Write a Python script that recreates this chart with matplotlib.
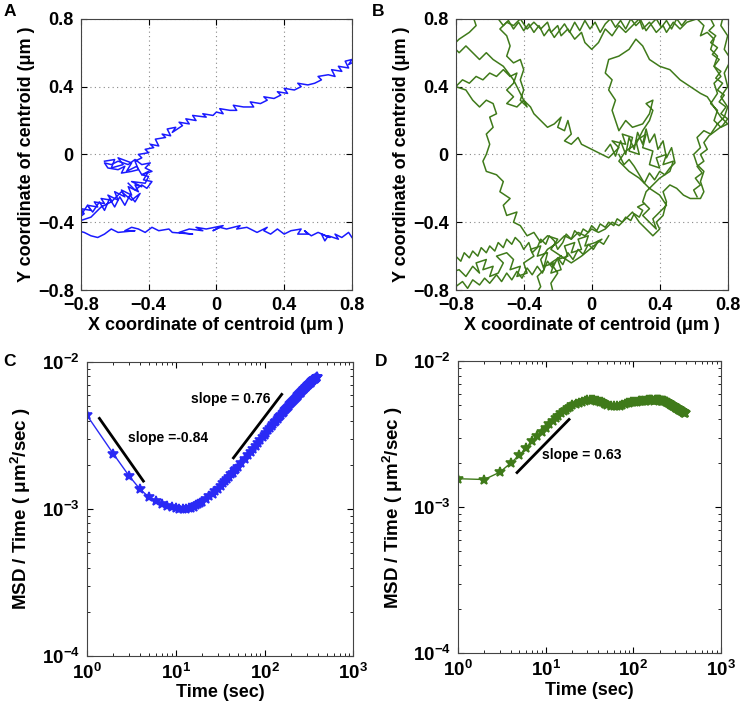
import matplotlib
matplotlib.use('Agg')
import numpy as np
import matplotlib.pyplot as plt

plt.rcParams['font.family'] = ['Liberation Sans', 'DejaVu Sans']
plt.rcParams['font.weight'] = 'bold'
plt.rcParams['axes.labelweight'] = 'bold'
plt.rcParams['mathtext.fontset'] = 'custom'
plt.rcParams['mathtext.rm'] = 'Liberation Sans:bold'
plt.rcParams['mathtext.bf'] = 'Liberation Sans:bold'
plt.rcParams['mathtext.it'] = 'Liberation Sans:bold:italic'

# panel A: centroid trajectory (um), lower band then upper band
path_a = [
    (0.80, -0.49), (0.78, -0.46), (0.74, -0.49), (0.70, -0.47), (0.72, -0.50), (0.66, -0.48),
    (0.64, -0.51), (0.62, -0.47), (0.67, -0.49), (0.60, -0.46), (0.56, -0.48), (0.52, -0.45),
    (0.54, -0.47), (0.48, -0.47), (0.50, -0.44), (0.44, -0.45), (0.40, -0.47), (0.36, -0.44),
    (0.32, -0.47), (0.28, -0.45), (0.30, -0.43), (0.24, -0.46), (0.18, -0.43), (0.12, -0.44),
    (0.14, -0.42), (0.06, -0.44), (0.02, -0.43), (-0.02, -0.45), (0.04, -0.42), (-0.06, -0.44),
    (-0.12, -0.43), (-0.08, -0.45), (-0.16, -0.44), (-0.22, -0.46), (-0.14, -0.47), (-0.26, -0.46),
    (-0.28, -0.44), (-0.34, -0.45), (-0.38, -0.43), (-0.42, -0.46), (-0.46, -0.44), (-0.50, -0.43),
    (-0.54, -0.45), (-0.48, -0.45), (-0.58, -0.46), (-0.62, -0.44), (-0.66, -0.47), (-0.70, -0.49),
    (-0.74, -0.48), (-0.78, -0.46), (-0.82, -0.45), (-0.85, -0.42),
    (-0.82, -0.38), (-0.78, -0.35), (-0.80, -0.32), (-0.74, -0.33), (-0.76, -0.30), (-0.70, -0.31),
    (-0.72, -0.28), (-0.66, -0.29), (-0.68, -0.26), (-0.62, -0.27), (-0.64, -0.24), (-0.58, -0.27),
    (-0.60, -0.22), (-0.54, -0.25), (-0.56, -0.21), (-0.50, -0.24), (-0.52, -0.19), (-0.46, -0.22),
    (-0.48, -0.18), (-0.44, -0.19), (-0.50, -0.16), (-0.42, -0.17), (-0.40, -0.13), (-0.44, -0.12),
    (-0.38, -0.10), (-0.42, -0.08), (-0.39, -0.05), (-0.44, -0.06), (-0.48, -0.03), (-0.52, -0.06),
    (-0.58, -0.04), (-0.62, -0.06), (-0.66, -0.05), (-0.64, -0.08), (-0.58, -0.09), (-0.54, -0.07),
    (-0.56, -0.11), (-0.50, -0.10), (-0.46, -0.09), (-0.48, -0.04), (-0.44, -0.02), (-0.46, 0.00),
    (-0.40, 0.01), (-0.42, 0.03), (-0.37, 0.04), (-0.39, 0.06), (-0.34, 0.05), (-0.36, 0.09),
    (-0.30, 0.10), (-0.32, 0.12), (-0.27, 0.11), (-0.29, 0.15), (-0.24, 0.16), (-0.26, 0.13),
    (-0.20, 0.17), (-0.22, 0.19), (-0.16, 0.18), (-0.18, 0.21), (-0.12, 0.20), (-0.14, 0.23),
    (-0.06, 0.22), (-0.08, 0.24), (-0.02, 0.23), (0.00, 0.25), (0.04, 0.24), (0.02, 0.27),
    (0.08, 0.26), (0.12, 0.26), (0.10, 0.29), (0.16, 0.28), (0.22, 0.28), (0.20, 0.31),
    (0.26, 0.30), (0.30, 0.32), (0.28, 0.34), (0.34, 0.33), (0.38, 0.35), (0.36, 0.37),
    (0.42, 0.36), (0.40, 0.39), (0.46, 0.38), (0.50, 0.40), (0.48, 0.42), (0.54, 0.41),
    (0.58, 0.42), (0.62, 0.44), (0.60, 0.46), (0.66, 0.47), (0.70, 0.46), (0.68, 0.50),
    (0.74, 0.49), (0.72, 0.52), (0.78, 0.51), (0.76, 0.55), (0.80, 0.56), (0.78, 0.53), (0.82, 0.55),
]
a_cluster_low = [
    (-0.80, -0.36), (-0.76, -0.30), (-0.73, -0.34), (-0.69, -0.28), (-0.66, -0.33), (-0.63, -0.26),
    (-0.60, -0.31), (-0.57, -0.25), (-0.54, -0.30), (-0.51, -0.24), (-0.48, -0.28), (-0.45, -0.23),
    (-0.50, -0.27), (-0.56, -0.22), (-0.62, -0.28), (-0.68, -0.31), (-0.74, -0.37), (-0.80, -0.39),
]
a_cluster_mid = [
    (-0.66, -0.04), (-0.60, -0.03), (-0.62, -0.08), (-0.55, -0.06), (-0.58, -0.02), (-0.50, -0.05),
    (-0.53, -0.10), (-0.47, -0.07), (-0.44, -0.12), (-0.40, -0.10), (-0.43, -0.15), (-0.38, -0.16),
    (-0.41, -0.20), (-0.44, -0.18), (-0.48, -0.21), (-0.52, -0.17),
]

# panel B: centroid trajectory (um), main walk plus dense passes
b_main = [
    (-0.84, -0.70), (-0.78, -0.68), (-0.74, -0.72), (-0.70, -0.66), (-0.66, -0.70), (-0.68, -0.64),
    (-0.62, -0.62), (-0.64, -0.68), (-0.58, -0.66), (-0.60, -0.72), (-0.55, -0.70), (-0.52, -0.64),
    (-0.56, -0.60), (-0.50, -0.58), (-0.46, -0.62), (-0.48, -0.68), (-0.42, -0.66), (-0.44, -0.72),
    (-0.38, -0.70), (-0.40, -0.64), (-0.34, -0.60), (-0.36, -0.56), (-0.30, -0.54), (-0.32, -0.60),
    (-0.26, -0.58), (-0.28, -0.66), (-0.22, -0.64), (-0.24, -0.70), (-0.18, -0.68), (-0.20, -0.62),
    (-0.14, -0.60), (-0.16, -0.54), (-0.10, -0.52), (-0.12, -0.58), (-0.06, -0.56), (-0.08, -0.50),
    (-0.02, -0.48), (-0.04, -0.54), (0.02, -0.52), (0.06, -0.50),
    (0.00, -0.55), (-0.06, -0.60), (-0.12, -0.64), (-0.18, -0.60), (-0.24, -0.56), (-0.20, -0.50),
    (-0.26, -0.48), (-0.30, -0.52), (-0.34, -0.46), (-0.38, -0.48), (-0.42, -0.42), (-0.46, -0.40),
    (-0.44, -0.34), (-0.50, -0.36), (-0.52, -0.30), (-0.48, -0.26), (-0.54, -0.22), (-0.52, -0.16),
    (-0.56, -0.12), (-0.62, -0.10), (-0.64, -0.04), (-0.62, 0.00), (-0.60, 0.06), (-0.62, 0.12),
    (-0.58, 0.16), (-0.60, 0.22), (-0.56, 0.24), (-0.58, 0.30), (-0.62, 0.32), (-0.66, 0.28),
    (-0.70, 0.32), (-0.74, 0.38), (-0.80, 0.40), (-0.76, 0.44), (-0.72, 0.42), (-0.68, 0.46),
    (-0.64, 0.44), (-0.60, 0.48), (-0.56, 0.46), (-0.52, 0.50), (-0.48, 0.46), (-0.44, 0.48),
    (-0.46, 0.42), (-0.50, 0.38), (-0.46, 0.34), (-0.50, 0.30), (-0.44, 0.28), (-0.40, 0.32),
    (-0.36, 0.28), (-0.34, 0.24), (-0.30, 0.20), (-0.26, 0.16), (-0.22, 0.18), (-0.18, 0.22),
    (-0.20, 0.16), (-0.16, 0.14), (-0.14, 0.20), (-0.12, 0.12), (-0.16, 0.08), (-0.12, 0.06),
    (-0.08, 0.10), (-0.06, 0.06), (-0.02, 0.04), (0.02, 0.02), (0.06, 0.00), (0.10, -0.02),
    (0.16, 0.04), (0.12, 0.08), (0.20, 0.06), (0.18, 0.12), (0.24, 0.10), (0.22, 0.02),
    (0.28, 0.00), (0.26, 0.08), (0.32, 0.12), (0.30, 0.04), (0.36, 0.02), (0.34, -0.06),
    (0.40, -0.08), (0.38, -0.02), (0.44, 0.00), (0.42, -0.06), (0.48, -0.04), (0.46, -0.10),
    (0.40, -0.14), (0.36, -0.18), (0.32, -0.22), (0.30, -0.28), (0.34, -0.32), (0.30, -0.36),
    (0.34, -0.40), (0.38, -0.44), (0.36, -0.38), (0.40, -0.34), (0.44, -0.30), (0.40, -0.24),
    (0.34, -0.20), (0.28, -0.14), (0.22, -0.10), (0.16, -0.04), (0.20, 0.02), (0.26, 0.06),
    (0.30, 0.14), (0.34, 0.20), (0.36, 0.26), (0.32, 0.30), (0.36, 0.32), (0.34, 0.24),
    (0.30, 0.18), (0.24, 0.16), (0.20, 0.20), (0.16, 0.14), (0.14, 0.20), (0.12, 0.26),
    (0.14, 0.32), (0.10, 0.38), (0.12, 0.44), (0.08, 0.48), (0.10, 0.56),
    (0.16, 0.58), (0.22, 0.62), (0.26, 0.68), (0.30, 0.64), (0.34, 0.56), (0.40, 0.52),
    (0.46, 0.50), (0.52, 0.44), (0.58, 0.40), (0.64, 0.36), (0.68, 0.34), (0.72, 0.28),
    (0.76, 0.22), (0.80, 0.18), (0.76, 0.16), (0.72, 0.20), (0.74, 0.26), (0.70, 0.30),
    (0.74, 0.36), (0.72, 0.42), (0.76, 0.46), (0.72, 0.52), (0.74, 0.58), (0.70, 0.62),
    (0.72, 0.68), (0.68, 0.72), (0.64, 0.70), (0.66, 0.76), (0.62, 0.80),
    (0.56, 0.78), (0.52, 0.74), (0.48, 0.78), (0.44, 0.72), (0.42, 0.76), (0.38, 0.72),
    (0.34, 0.78), (0.30, 0.74), (0.28, 0.80), (0.24, 0.76), (0.20, 0.72), (0.16, 0.76),
    (0.12, 0.70), (0.08, 0.74), (0.04, 0.66), (0.00, 0.62), (-0.04, 0.66), (-0.06, 0.72),
    (-0.10, 0.68), (-0.14, 0.74), (-0.18, 0.70), (-0.20, 0.76), (-0.24, 0.72), (-0.26, 0.78),
    (-0.30, 0.74), (-0.34, 0.78), (-0.38, 0.74), (-0.42, 0.80), (-0.46, 0.76), (-0.50, 0.78),
    (-0.54, 0.74), (-0.50, 0.70), (-0.48, 0.64), (-0.50, 0.58), (-0.46, 0.54), (-0.42, 0.56),
    (-0.40, 0.50), (-0.42, 0.44), (-0.40, 0.38), (-0.42, 0.32), (-0.38, 0.28),
    (-0.46, 0.44), (-0.52, 0.52), (-0.58, 0.56), (-0.62, 0.60), (-0.66, 0.56), (-0.70, 0.60),
    (-0.74, 0.64), (-0.78, 0.60), (-0.82, 0.64), (-0.78, 0.68), (-0.72, 0.72), (-0.68, 0.76),
    (-0.70, 0.82), (0.78, 0.84),
    (0.76, 0.76), (0.80, 0.70), (0.78, 0.62), (0.82, 0.56), (0.78, 0.48), (0.80, 0.40),
    (0.76, 0.34), (0.80, 0.28), (0.78, 0.22), (0.74, 0.18), (0.70, 0.12), (0.66, 0.14),
    (0.62, 0.10), (0.64, 0.04), (0.60, 0.00), (0.62, -0.06), (0.66, -0.10), (0.64, -0.16),
    (0.66, -0.22), (0.64, -0.26), (0.58, -0.26), (0.54, -0.24), (0.50, -0.20), (0.46, -0.18),
    (0.42, -0.22), (0.44, -0.28), (0.42, -0.36), (0.38, -0.40), (0.40, -0.44), (0.36, -0.48),
    (0.32, -0.44), (0.28, -0.40), (0.24, -0.34), (0.20, -0.38), (0.16, -0.42), (0.12, -0.40),
    (0.08, -0.44), (0.04, -0.46), (0.00, -0.44), (-0.04, -0.48), (-0.08, -0.46), (-0.12, -0.50),
    (-0.16, -0.48), (-0.20, -0.52), (-0.26, -0.56), (-0.30, -0.62), (-0.28, -0.68), (-0.32, -0.72),
    (-0.30, -0.78), (-0.34, -0.84), (-0.22, -0.84),
    (-0.24, -0.76), (-0.20, -0.70), (-0.24, -0.64), (-0.18, -0.60),
]
b_low_upper = [
    (-0.80, -0.60), (-0.77, -0.63), (-0.75, -0.58), (-0.72, -0.61), (-0.70, -0.57), (-0.67, -0.60),
    (-0.65, -0.55), (-0.62, -0.58), (-0.60, -0.54), (-0.57, -0.57), (-0.55, -0.52), (-0.52, -0.55),
    (-0.50, -0.50), (-0.47, -0.53), (-0.45, -0.49), (-0.42, -0.52), (-0.40, -0.56), (-0.37, -0.52),
    (-0.35, -0.58), (-0.32, -0.55), (-0.30, -0.50), (-0.27, -0.53), (-0.25, -0.48), (-0.22, -0.51),
    (-0.20, -0.56), (-0.17, -0.52), (-0.15, -0.47), (-0.12, -0.50), (-0.10, -0.45), (-0.07, -0.48),
    (-0.05, -0.44), (-0.02, -0.46), (0.00, -0.42), (0.03, -0.45), (0.05, -0.41), (0.08, -0.43),
    (0.10, -0.40), (0.13, -0.42), (0.15, -0.38), (0.18, -0.40), (0.20, -0.37), (0.23, -0.39),
    (0.25, -0.35), (0.28, -0.37), (0.30, -0.33), (0.27, -0.31), (0.31, -0.29),
]
b_low_lower = [
    (-0.80, -0.78), (-0.76, -0.75), (-0.73, -0.79), (-0.70, -0.74), (-0.66, -0.77), (-0.63, -0.73),
    (-0.60, -0.76), (-0.56, -0.71), (-0.53, -0.75), (-0.50, -0.70), (-0.47, -0.74), (-0.44, -0.69),
    (-0.41, -0.73), (-0.38, -0.67), (-0.35, -0.71), (-0.32, -0.66), (-0.29, -0.70), (-0.26, -0.63),
    (-0.23, -0.67), (-0.20, -0.61), (-0.17, -0.65), (-0.14, -0.58), (-0.11, -0.62), (-0.08, -0.56),
    (-0.05, -0.59), (-0.02, -0.53), (0.01, -0.56), (0.04, -0.51), (0.07, -0.53), (0.10, -0.48),
]
b_right = [
    (0.70, 0.80), (0.72, 0.76), (0.69, 0.73), (0.73, 0.70), (0.70, 0.66), (0.74, 0.63),
    (0.71, 0.59), (0.75, 0.56), (0.72, 0.52), (0.76, 0.49), (0.73, 0.45), (0.77, 0.42),
    (0.74, 0.38), (0.78, 0.35), (0.75, 0.31), (0.79, 0.28), (0.76, 0.24), (0.80, 0.21),
    (0.77, 0.17), (0.73, 0.14), (0.69, 0.11), (0.66, 0.07), (0.68, 0.03), (0.64, 0.00),
    (0.66, -0.04), (0.62, -0.07), (0.65, -0.11), (0.61, -0.14), (0.64, -0.18), (0.60, -0.21),
    (0.62, -0.25),
]
b_top = [
    (-0.55, 0.80), (-0.52, 0.76), (-0.49, 0.79), (-0.46, 0.74), (-0.43, 0.78), (-0.40, 0.73),
    (-0.37, 0.77), (-0.34, 0.72), (-0.31, 0.76), (-0.28, 0.70), (-0.25, 0.74), (-0.22, 0.69),
    (-0.19, 0.73), (-0.16, 0.77), (-0.13, 0.72), (-0.10, 0.78), (-0.07, 0.73), (-0.04, 0.79),
    (-0.01, 0.74), (0.02, 0.78), (0.05, 0.72), (0.08, 0.77), (0.11, 0.80), (0.14, 0.75),
    (0.17, 0.79), (0.20, 0.74), (0.23, 0.80), (0.26, 0.76), (0.29, 0.79), (0.32, 0.73),
    (0.35, 0.77), (0.38, 0.80), (0.41, 0.75), (0.44, 0.79), (0.47, 0.74), (0.50, 0.80),
    (0.53, 0.76), (0.56, 0.80),
]
b_center = [
    (0.08, 0.02), (0.11, 0.06), (0.14, -0.01), (0.17, 0.08), (0.20, 0.00), (0.22, 0.10),
    (0.25, 0.03), (0.27, 0.13), (0.30, 0.06), (0.32, 0.15), (0.34, 0.07), (0.37, 0.12),
    (0.39, 0.03), (0.42, 0.08), (0.44, -0.02), (0.47, 0.04), (0.49, -0.05), (0.46, -0.08),
    (0.43, -0.12), (0.40, -0.10), (0.37, -0.15), (0.34, -0.11), (0.31, -0.17), (0.28, -0.12),
    (0.25, -0.07), (0.22, -0.03), (0.19, -0.06), (0.16, 0.00),
]

# panels C and D: MSD / time (x1e-3 um^2/sec) vs lag time (sec)
lag_time = ([1, 2, 3, 4, 5, 6, 7, 8, 9, 10, 11, 12, 13, 14, 15, 16, 17, 18, 19, 20]
            + [22, 24, 26, 28, 30, 32, 34, 36, 38, 40, 42, 44, 46, 48, 50]
            + [55, 60, 65, 70, 75, 80, 85, 90, 95]
            + [100, 105, 110, 115, 120, 125, 130, 135, 140, 145, 150, 155, 160, 165, 170,
               175, 180, 185, 190, 195, 200, 205, 210, 215, 220, 225, 230, 235, 240, 245,
               250, 255, 260, 265, 270, 275, 280, 285, 290, 295, 300, 305, 310, 315, 320,
               325, 330, 335, 340, 345, 350, 355, 360, 365, 370, 375, 380, 385, 390])
msd_c = [4.37, 2.37, 1.68, 1.36, 1.21, 1.14, 1.09, 1.05, 1.03, 1.01, 1.00, 1.00, 1.00, 1.01,
         1.02, 1.04, 1.06, 1.08, 1.10, 1.12,
         1.17, 1.22, 1.27, 1.33, 1.38, 1.44, 1.50, 1.55, 1.61, 1.66, 1.72, 1.77, 1.83, 1.88, 1.94,
         2.07, 2.20, 2.33, 2.45, 2.57, 2.70, 2.82, 2.95, 3.07,
         3.19, 3.31, 3.43, 3.55, 3.67, 3.79, 3.90, 4.00, 4.10, 4.20, 4.30, 4.40, 4.50, 4.60, 4.70,
         4.79, 4.88, 4.97, 5.06, 5.15, 5.25, 5.33, 5.42, 5.51, 5.60, 5.69, 5.78, 5.86, 5.95, 6.03,
         6.12, 6.21, 6.30, 6.37, 6.45, 6.52, 6.60, 6.67, 6.74, 6.81, 6.88, 6.94, 7.00, 7.06, 7.12,
         7.18, 7.25, 7.31, 7.38, 7.44, 7.50, 7.56, 7.62, 7.67, 7.72, 7.77, 7.82, 7.86, 7.90]
msd_d = [1.57, 1.55, 1.74, 2.01, 2.27, 2.56, 2.83, 3.06, 3.27, 3.51, 3.70, 3.90, 4.08, 4.25,
         4.40, 4.55, 4.68, 4.80, 4.90, 5.00,
         5.12, 5.22, 5.30, 5.36, 5.40, 5.42, 5.42, 5.40, 5.38, 5.35, 5.30, 5.24, 5.17, 5.11, 5.06,
         4.97, 4.92, 4.93, 4.98, 5.05, 5.12, 5.18, 5.22, 5.25,
         5.27, 5.29, 5.31, 5.33, 5.34, 5.36, 5.37, 5.38, 5.39, 5.40, 5.40, 5.40, 5.40, 5.40, 5.39,
         5.40, 5.40, 5.41, 5.41, 5.41, 5.40, 5.39, 5.38, 5.37, 5.36, 5.35, 5.33, 5.31, 5.28, 5.24,
         5.20, 5.16, 5.12, 5.08, 5.05, 5.01, 4.98, 4.95, 4.92, 4.89, 4.86, 4.83, 4.80, 4.77, 4.74,
         4.72, 4.70, 4.67, 4.65, 4.62, 4.60, 4.57, 4.55, 4.52, 4.50, 4.47, 4.45, 4.42, 4.40]

# slope guide lines (time, MSD/time)
slope_c1 = ([1.39, 4.34], [4.14e-3, 1.55e-3])
slope_c2 = ([44.7, 156], [2.23e-3, 6.03e-3])
slope_d = ([4.72, 18.5], [1.73e-3, 4.0e-3])

blue = '#1a1aff'
green = '#3f7a1a'
lin_ticks = [-0.8, -0.4, 0, 0.4, 0.8]
lin_labels = ['\u22120.8', '\u22120.4', '0', '0.4', '0.8']


def style_axes(ax, size):
    ax.tick_params(which='both', direction='in', top=True, right=True, labelsize=size, pad=5)
    ax.tick_params(which='major', length=4)
    ax.tick_params(which='minor', length=2.5)
    for s in ax.spines.values():
        s.set_linewidth(0.8)
        s.set_color('#444444')


def trajectory_panel(ax, segments, color):
    for seg in segments:
        p = np.array(seg)
        ax.plot(p[:, 0], p[:, 1], color=color, lw=1.1)
    ax.set_xlim(-0.8, 0.8)
    ax.set_ylim(-0.8, 0.8)
    ax.set_xticks(lin_ticks)
    ax.set_xticklabels(lin_labels)
    ax.set_yticks(lin_ticks)
    ax.set_yticklabels(lin_labels)
    ax.grid(True, linestyle=(0, (1, 3)), color='#888888', lw=0.8)
    ax.set_xlabel('X coordinate of centroid (\u03bcm )', fontsize=13, labelpad=2)
    ax.set_ylabel('Y coordinate of centroid (\u03bcm )', fontsize=13, labelpad=2)
    style_axes(ax, 13)


def msd_panel(ax, values, color, lines):
    ax.plot(lag_time, np.array(values) * 1e-3, color=color, lw=1, marker='*',
            ms=7.5, mew=1.2)
    for xs, ys in lines:
        ax.plot(xs, ys, color='black', lw=2)
    ax.set_xscale('log')
    ax.set_yscale('log')
    ax.set_xlim(1, 1000)
    ax.set_ylim(1e-4, 1e-2)
    ax.set_xticks([1, 10, 100, 1000])
    ax.set_xticklabels([r'$10^{0}$', r'$10^{1}$', r'$10^{2}$', r'$10^{3}$'])
    ax.set_yticks([1e-4, 1e-3, 1e-2])
    ax.set_yticklabels([r'$10^{-4}$', r'$10^{-3}$', r'$10^{-2}$'])
    ax.set_xlabel('Time (sec)', fontsize=13, labelpad=1)
    ax.set_ylabel('MSD / Time ( \u03bcm$^2$/sec )', fontsize=13.5, labelpad=6)
    style_axes(ax, 13.5)


fig = plt.figure(figsize=(7.41, 7.10), dpi=100)
axA = fig.add_axes([0.109, 0.5915, 0.366, 0.382])
axB = fig.add_axes([0.615, 0.5915, 0.367, 0.382])
axC = fig.add_axes([0.117, 0.076, 0.360, 0.414])
axD = fig.add_axes([0.618, 0.080, 0.355, 0.411])

trajectory_panel(axA, [path_a, a_cluster_low, a_cluster_mid], blue)
trajectory_panel(axB, [b_main, b_low_upper, b_low_lower, b_right, b_top, b_center], green)
msd_panel(axC, msd_c, '#2a2af5', [slope_c1, slope_c2])
msd_panel(axD, msd_d, green, [slope_d])

axC.text(2.9, 3.03e-3, 'slope =-0.84', fontsize=10, va='center')
axC.text(14.9, 5.57e-3, 'slope = 0.76', fontsize=10, va='center')
axD.text(9.1, 2.3e-3, 'slope = 0.63', fontsize=10, va='center')

for lbl, x, y in [('A', 0.005, 0.995), ('B', 0.502, 0.995), ('C', 0.005, 0.502), ('D', 0.506, 0.502)]:
    fig.text(x, y, lbl, fontsize=12.5, fontweight='bold', va='top', ha='left')

fig.savefig('out.png', dpi=100)
